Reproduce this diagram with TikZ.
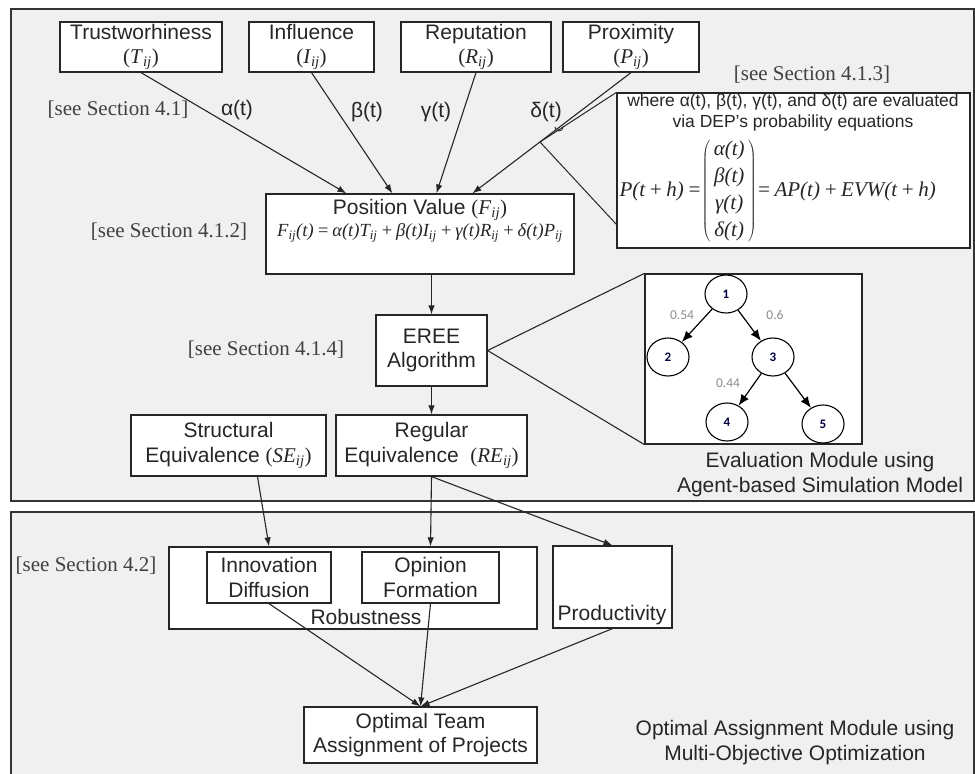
\documentclass[tikz,border=0pt]{standalone}
\usepackage{fontspec}
\setmainfont{Liberation Sans}
\newfontfamily\tms{Liberation Serif}
\newfontfamily\carl{Carlito}
\usetikzlibrary{arrows.meta,shapes.geometric,calc}
\newcommand\sbij{\textsubscript{\itshape ij}}
\newcommand\vv[1]{{\tms(\textit{#1}\sbij)}}
\begin{document}
\begin{tikzpicture}[x=1pt,y=-1pt,
  line width=1.1pt,
  >={Latex[length=9pt,width=6.5pt]},
  panel/.style={draw=black!80,line width=1.3pt,fill=black!6},
  box/.style={draw=black!85,fill=white,line width=1.2pt,inner sep=0pt,align=center,
    text=black!85,font=\fontsize{21}{24.5}\selectfont},
  lbl/.style={inner sep=0pt,text=black!85,font=\fontsize{21}{24.5}\selectfont,align=center},
  sec/.style={inner sep=0pt,text=black!75,font=\tms\fontsize{21}{24}\selectfont},
  conn/.style={draw=black!85,->},
  tnode/.style={ellipse,draw=black,line width=1.1pt,minimum width=42pt,minimum height=38pt,inner sep=0pt,
    font=\carl\bfseries\fontsize{13}{13}\selectfont,text=black!75!blue},
  tlab/.style={inner sep=0pt,text=black!45,font=\carl\fontsize{13.5}{14}\selectfont},
  tarr/.style={draw=black,line width=1.2pt,-{Latex[length=11pt,width=9pt]}}
]
\useasboundingbox (0,0) rectangle (975,774);
\fill[white] (0,0) rectangle (975,774);
% panels
\draw[panel] (11,9) rectangle (974,501);
\draw[panel] (11,512) rectangle (974,790);

% top factor boxes
\node[box,minimum width=162pt,minimum height=50pt] (trust) at (141,47) {Trustworhiness\\\vv{T}};
\node[box,minimum width=125pt,minimum height=50pt] (infl) at (311.5,47) {Influence\\\vv{I}};
\node[box,minimum width=150pt,minimum height=50pt] (rep) at (476,47) {Reputation\\\vv{R}};
\node[box,minimum width=136pt,minimum height=50pt] (prox) at (631,47) {Proximity\\\vv{P}};

% position value
\node[box,minimum width=308pt,minimum height=80pt] (pv) at (420,234) {};
\node[lbl] (pvt) at (420,210) {Position Value \vv{F}};
\node[lbl,font=\tms\itshape\fontsize{18.5}{21}\selectfont] (pvf) at (420,233)
  {F\sbij(t)\,=\,α(t)T\sbij\,+\,β(t)I\sbij\,+\,γ(t)R\sbij\,+\,δ(t)P\sbij};

% labels
\node[sec] (s41) at (118,110) {[see Section 4.1]};
\node[sec] (s413) at (812,75) {[see Section 4.1.3]};
\node[sec] (s412) at (169,232) {[see Section 4.1.2]};
\node[sec] (s414) at (266,350) {[see Section 4.1.4]};
\node[sec] (s42) at (86,566) {[see Section 4.2]};
\node[lbl] (la) at (237,110) {α(t)};
\node[lbl] (lb) at (367,112) {β(t)};
\node[lbl] (lg) at (436,112) {γ(t)};
\node[lbl] (ld) at (546,112) {δ(t)};

% arrows into position value
\draw[conn] (trust.south) -- ($(pv.north west)+(81,0)$);
\draw[conn] (infl.south) -- ($(pv.north west)+(127,0)$);
\draw[conn] (rep.south) -- ($(pv.north west)+(171,0)$);
\draw[conn] (prox.south) -- ($(pv.north west)+(207,0)$);

% DEP box
\node[box,minimum width=353pt,minimum height=155pt] (dep) at (793.5,170.5) {};
\node[lbl,font=\fontsize{17.5}{21}\selectfont] (dept) at (793,112)
  {where α(t), β(t), γ(t), and δ(t) are evaluated\\via DEP's probability equations};
\node[lbl,anchor=west,font=\tms\itshape\fontsize{21}{24}\selectfont] (depf) at (619,191)
  {P(t\,+\,h)\,=$\left(\begin{tabular}{@{\,}c@{\,}}α(t)\\[3pt]β(t)\\[3pt]γ(t)\\[3pt]δ(t)\end{tabular}\right)$=\,AP(t)\,+\,EVW(t\,+\,h)};
\coordinate (cc) at (540,142);
\draw[draw=black!85,line width=1pt] (cc) -- (dep.north west);
\draw[draw=black!85,line width=1pt] (cc) -- ($(dep.north west)+(0,132)$);
\draw[draw=black!85,line width=0.9pt] (555,127) arc[start angle=180,end angle=0,radius=4];

% EREE
\node[box,minimum width=111pt,minimum height=71pt] (eree) at (431.5,350.5) {EREE\\Algorithm};
\draw[conn] (eree.north |- pv.south) -- (eree.north);

% tree box
\node[box,minimum width=217pt,minimum height=170pt] (tree) at (753.5,359) {};
\draw[draw=black!85] (eree.east) -- (tree.north west);
\draw[draw=black!85] (eree.east) -- (tree.south west);
\node[tnode] (t1) at (726,294) {1};
\node[tnode] (t2) at (668,357) {2};
\node[tnode] (t3) at (773,357) {3};
\node[tnode] (t4) at (727,422) {4};
\node[tnode] (t5) at (823,424) {5};
\draw[tarr] (t1) -- (t2);
\draw[tarr] (t1) -- (t3);
\draw[tarr] (t3) -- (t4);
\draw[tarr] (t3) -- (t5);
\node[tlab] (l54) at (682,315) {0.54};
\node[tlab] (l6) at (775,315) {0.6};
\node[tlab] (l44) at (728,383) {0.44};
\node[lbl] (evm) at (820,474.5) {Evaluation Module using\\Agent-based Simulation Model};

% equivalence boxes
\node[box,minimum width=195pt,minimum height=61pt] (se) at (228.5,445.5) {Structural\\Equivalence \vv{SE}};
\node[box,minimum width=191pt,minimum height=61pt] (re) at (431.5,445.5) {Regular\\Equivalence\ \ \vv{RE}};
\draw[conn] (eree.south) -- (re.north);

% bottom panel
\node[box,minimum width=368pt,minimum height=82pt] (rob) at (353,588) {};
\node[lbl] (robt) at (366,617) {Robustness};
\node[box,minimum width=124pt,minimum height=51pt] (inno) at (269,577.5) {Innovation\\Diffusion};
\node[box,minimum width=137pt,minimum height=51pt] (opin) at (430.5,577.5) {Opinion\\Formation};
\node[box,minimum width=119pt,minimum height=82pt] (prod) at (612.5,587) {};
\node[lbl] (prodt) at (612,615) {Productivity};
\node[box,minimum width=233pt,minimum height=56pt] (opt) at (420.5,735) {Optimal Team\\Assignment of Projects};

\draw[conn] ($(se.south)+(29,0)$) -- (inno.north |- rob.north);
\draw[conn] (re.south) -- (opin.north |- rob.north);
\draw[conn] (re.south) -- (prod.north);
\draw[conn] (inno.south) -- (opt.north);
\draw[conn] (opin.south) -- (opt.north);
\draw[conn] (prod.south) -- (opt.north);

\node[lbl] (oam) at (795,742.5) {Optimal Assignment Module using\\Multi-Objective Optimization};
\end{tikzpicture}
\end{document}
